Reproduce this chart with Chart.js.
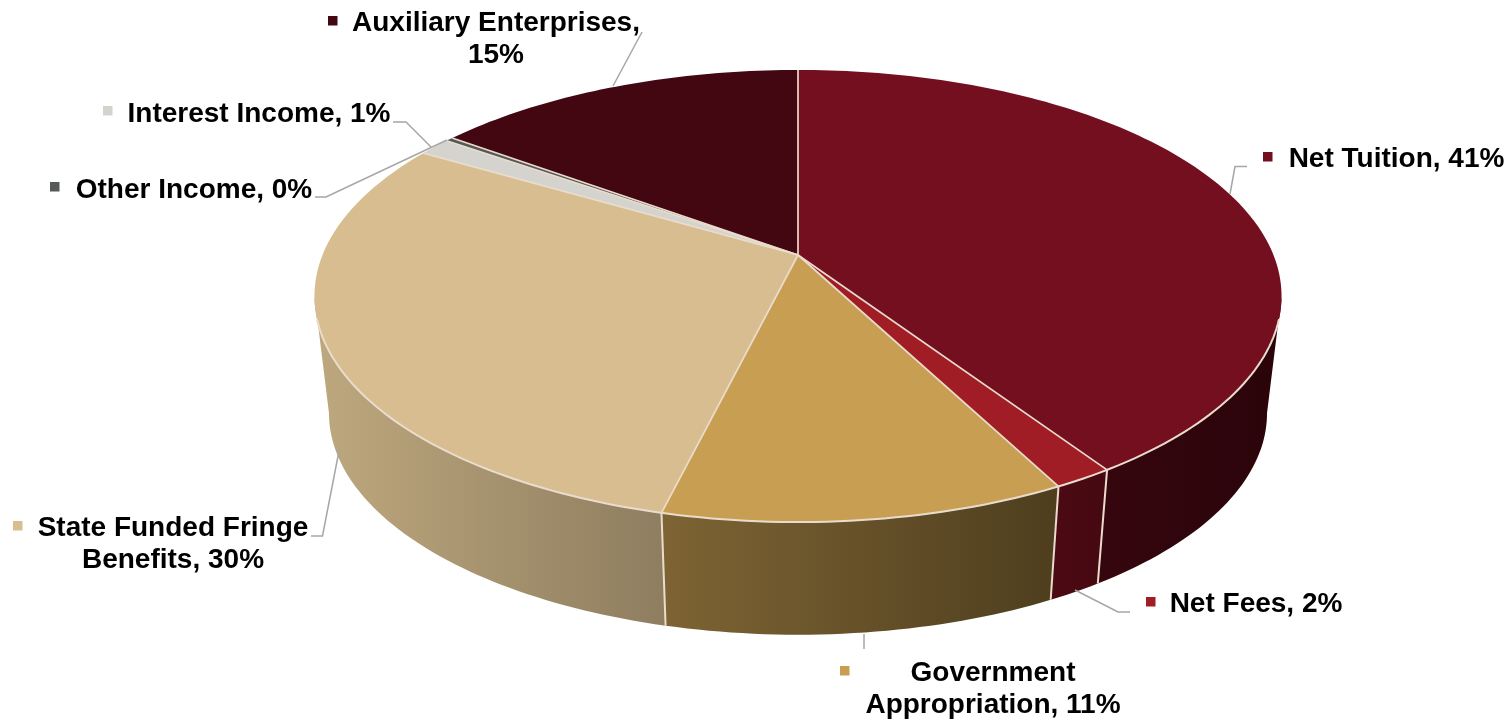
<!DOCTYPE html>
<html>
<head>
<meta charset="utf-8">
<title>Revenue sources</title>
<script src="https://cdn.jsdelivr.net/npm/chart.js@4"></script>
<style>
  html, body { margin: 0; padding: 0; background: #fff; }
  canvas { display: block; }
</style>
</head>
<body>
<canvas id="myChart" width="1512" height="720"></canvas>
<script>
const categories = ['Net Tuition', 'Net Fees', 'Government Appropriation', 'State Funded Fringe Benefits', 'Interest Income', 'Other Income', 'Auxiliary Enterprises'];
const shares = [40.7, 1.7, 11.4, 29.7, 1.3, 0.3, 14.9];

const topColors = ['#740F1F', '#A01D26', '#C89F52', '#D7BD8F', '#D5D3CE', '#55595A', '#430712'];
const wallLeft = ['#36060E', '#4C0A13', '#7E6434', '#BEA87E', '#B5B3AE', '#444', '#2C040A'];
const wallRight = ['#2A040A', '#460911', '#4E3E1E', '#8E7D5F', '#B5B3AE', '#444', '#2C040A'];

// perspective of the disc, in canvas pixels
const apexX = 798, apexY = 255;
const spreadX = 475.5, spreadY = 218.6, tilt = 0.1814;
const baseDrop = 118, baseScaleX = 0.97, baseScaleY = 0.98;
// the wall is only seen between the two widest points of the rim
const frontFrom = Math.asin(tilt), frontTo = Math.PI - frontFrom;

// where each label goes; wrap = number of words on the first line
const labelLayout = [
  { x: 1396.5, y: 166.5, wrap: 0, key: [1263, 152], leader: [[1247, 166.5], [1235, 166.5], [1230, 194]] },
  { x: 1256, y: 612, wrap: 0, key: [1146, 597], leader: [[1130, 612], [1118, 612], [1075, 590]] },
  { x: 993, y: 681, wrap: 1, key: [840, 666], leader: [[864, 649], [864, 634]] },
  { x: 173, y: 536, wrap: 3, key: [13, 521], leader: [[311, 536], [322.5, 536], [339, 451]] },
  { x: 259, y: 122, wrap: 0, key: [103, 106], leader: [[393, 122], [406, 122], [431, 147]] },
  { x: 194, y: 198, wrap: 0, key: [50, 182], leader: [[315, 197], [326, 197], [447, 140]] },
  { x: 496, y: 31, wrap: 2, key: [328, 16], leader: [[642, 32], [613, 86]] }
];
const lineHeight = 32;

function project(angle, base) {
  const cx = Math.cos(angle), cy = Math.sin(angle);
  const w = 1 - tilt * cy;
  return {
    x: apexX + (base ? baseScaleX : 1) * spreadX * cx / w,
    y: apexY + (base ? baseDrop : 0) + (base ? baseScaleY : 1) * spreadY * cy / w
  };
}

function rimPoints(start, end, base) {
  const steps = Math.max(2, Math.ceil((end - start) / 0.02));
  const pts = [];
  for (let i = 0; i <= steps; i++) {
    pts.push(project(start + (end - start) * i / steps, base));
  }
  return pts;
}

const disc3d = {
  id: 'disc3d',
  beforeDatasetsDraw(chart) {
    const ctx = chart.ctx;
    const arcs = chart.getDatasetMeta(0).data;
    ctx.save();
    ctx.lineJoin = 'round';

    // side wall
    arcs.forEach((arc, i) => {
      const start = Math.max(arc.startAngle, frontFrom);
      const end = Math.min(arc.endAngle, frontTo);
      if (end <= start) return;
      const top = rimPoints(start, end, false);
      const bottom = rimPoints(start, end, true);
      const xs = top.concat(bottom).map(p => p.x);
      const grad = ctx.createLinearGradient(Math.min(...xs), 0, Math.max(...xs), 0);
      grad.addColorStop(0, wallLeft[i]);
      grad.addColorStop(1, wallRight[i]);
      ctx.beginPath();
      top.forEach((p, n) => n ? ctx.lineTo(p.x, p.y) : ctx.moveTo(p.x, p.y));
      bottom.reverse().forEach(p => ctx.lineTo(p.x, p.y));
      ctx.closePath();
      ctx.fillStyle = grad;
      ctx.fill();
    });

    // seams between wall segments, front side only
    ctx.strokeStyle = '#EADCCD';
    ctx.lineWidth = 2;
    arcs.forEach(arc => {
      if (arc.endAngle < frontFrom || arc.endAngle > frontTo) return;
      const a = project(arc.endAngle, false), b = project(arc.endAngle, true);
      ctx.beginPath();
      ctx.moveTo(a.x, a.y);
      ctx.lineTo(b.x, b.y);
      ctx.stroke();
    });

    // top face
    arcs.forEach((arc, i) => {
      const rim = rimPoints(arc.startAngle, arc.endAngle, false);
      ctx.beginPath();
      ctx.moveTo(apexX, apexY);
      rim.forEach(p => ctx.lineTo(p.x, p.y));
      ctx.closePath();
      ctx.fillStyle = arc.options.backgroundColor;
      ctx.fill();
    });

    // spokes, then the lit front edge of the rim
    ctx.strokeStyle = '#EADCCD';
    ctx.lineWidth = 1.7;
    arcs.forEach(arc => {
      const p = project(arc.endAngle, false);
      ctx.beginPath();
      ctx.moveTo(apexX, apexY);
      ctx.lineTo(p.x, p.y);
      ctx.stroke();
    });
    ctx.lineWidth = 2;
    ctx.beginPath();
    rimPoints(frontFrom + 0.1, frontTo - 0.1, false).forEach((p, n) => n ? ctx.lineTo(p.x, p.y) : ctx.moveTo(p.x, p.y));
    ctx.stroke();
    ctx.restore();
    return false;
  },
  afterDraw(chart) {
    const ctx = chart.ctx;
    const values = chart.data.datasets[0].data;
    ctx.save();
    ctx.textAlign = 'center';
    ctx.textBaseline = 'alphabetic';
    ctx.font = 'bold 28px "Liberation Sans", Arial, sans-serif';
    labelLayout.forEach((lab, i) => {
      ctx.strokeStyle = '#A6A6A6';
      ctx.lineWidth = 1.5;
      ctx.beginPath();
      lab.leader.forEach((p, n) => n ? ctx.lineTo(p[0], p[1]) : ctx.moveTo(p[0], p[1]));
      ctx.stroke();

      ctx.fillStyle = chart.data.datasets[0].backgroundColor[i];
      ctx.fillRect(lab.key[0], lab.key[1], 9.5, 9.5);

      const words = (chart.data.labels[i] + ', ' + Math.round(values[i]) + '%').split(' ');
      const lines = lab.wrap ? [words.slice(0, lab.wrap).join(' '), words.slice(lab.wrap).join(' ')] : [words.join(' ')];
      ctx.fillStyle = '#000';
      lines.forEach((line, n) => ctx.fillText(line, lab.x, lab.y + n * lineHeight));
    });
    ctx.restore();
  }
};

new Chart(document.getElementById('myChart').getContext('2d'), {
  type: 'pie',
  data: {
    labels: categories,
    datasets: [{ data: shares, backgroundColor: topColors, borderWidth: 0 }]
  },
  options: {
    responsive: false,
    animation: false,
    plugins: { legend: { display: false }, tooltip: { enabled: false } }
  },
  plugins: [disc3d]
});
</script>
</body>
</html>
